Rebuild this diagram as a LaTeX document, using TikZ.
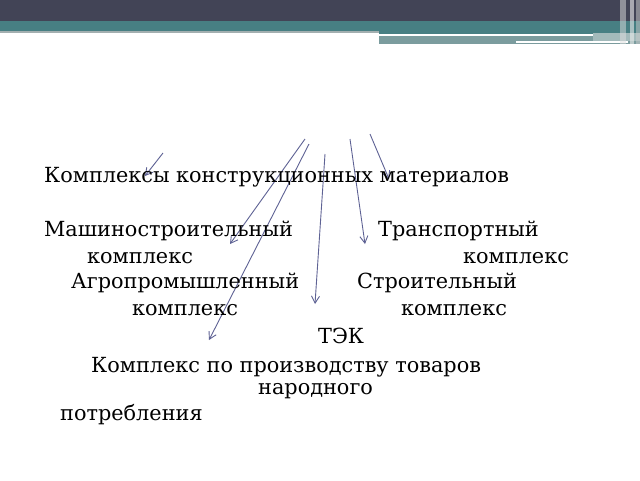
\documentclass[tikz,border=0pt]{standalone}
\usepackage{fontspec}
\setmainfont{DejaVu Serif}
\usetikzlibrary{arrows.meta}
\definecolor{hdrdark}{HTML}{424456}
\definecolor{hdrteal}{HTML}{477F83}
\definecolor{hdrteal2}{HTML}{7B9C9E}
\definecolor{hdrgrey}{HTML}{A3AFB0}
\definecolor{arrowcol}{HTML}{5E6294}
\tikzset{
  txt/.style={anchor=base west, inner sep=0pt, font=\fontsize{20.8}{24}\selectfont, text=black},
  conn/.style={draw=arrowcol, line width=0.9pt, -{Straight Barb[length=7pt,width=8pt,line width=0.9pt]}},
}
\begin{document}
\begin{tikzpicture}[x=1pt,y=-1pt]
\useasboundingbox (0,0) rectangle (640,480);
\fill[white] (0,0) rectangle (640,480);
% header
\fill[hdrdark] (0,0) rectangle (640,21);
\fill[hdrteal] (0,21) rectangle (640,31);
\fill[hdrgrey] (0,31) rectangle (379,33);
\fill[hdrteal] (379,31) rectangle (640,34);
\fill[white] (379,34.3) rectangle (593,36);
\fill[hdrteal2] (379,36) rectangle (640,44);
\fill[hdrteal2!70!white] (593,33) rectangle (640,41);
\fill[white] (516,41.3) rectangle (628,43.3);
\fill[white!75!gray, opacity=0.5] (620,0) rectangle (626,44);
\fill[white!85!gray, opacity=0.6] (630,0) rectangle (634,44);
\fill[white!60!gray, opacity=0.5] (636,0) rectangle (640,44);
% arrow coordinates
\coordinate (s1) at (163,153); \coordinate (e1) at (145,176);
\coordinate (s2) at (305,139); \coordinate (e2) at (230,244);
\coordinate (s3) at (309,144); \coordinate (e3) at (209,340);
\coordinate (s4) at (325,154); \coordinate (e4) at (315,304);
\coordinate (s5) at (350,139); \coordinate (e5) at (365,244);
\coordinate (s6) at (370,134); \coordinate (e6) at (389,179);
\draw[conn] (s1) -- (e1);
\draw[conn] (s2) -- (e2);
\draw[conn] (s3) -- (e3);
\draw[conn] (s4) -- (e4);
\draw[conn] (s5) -- (e5);
\draw[conn] (s6) -- (e6);
% texts
\node[txt] (t1) at (44,182) {Комплексы конструкционных материалов};
\node[txt] (t2) at (44,236) {Машиностроительный};
\node[txt] (t3) at (378,236) {Транспортный};
\node[txt] (t4) at (87,263) {комплекс};
\node[txt] (t5) at (463,263) {комплекс};
\node[txt] (t6) at (71,288) {Агропромышленный};
\node[txt] (t7) at (357,288) {Строительный};
\node[txt] (t8) at (132,315) {комплекс};
\node[txt] (t9) at (401,315) {комплекс};
\node[txt] (t10) at (318,343) {ТЭК};
\node[txt] (t11) at (91,372) {Комплекс по производству товаров};
\node[txt] (t12) at (258,394) {народного};
\node[txt] (t13) at (60,420) {потребления};
\end{tikzpicture}
\end{document}
